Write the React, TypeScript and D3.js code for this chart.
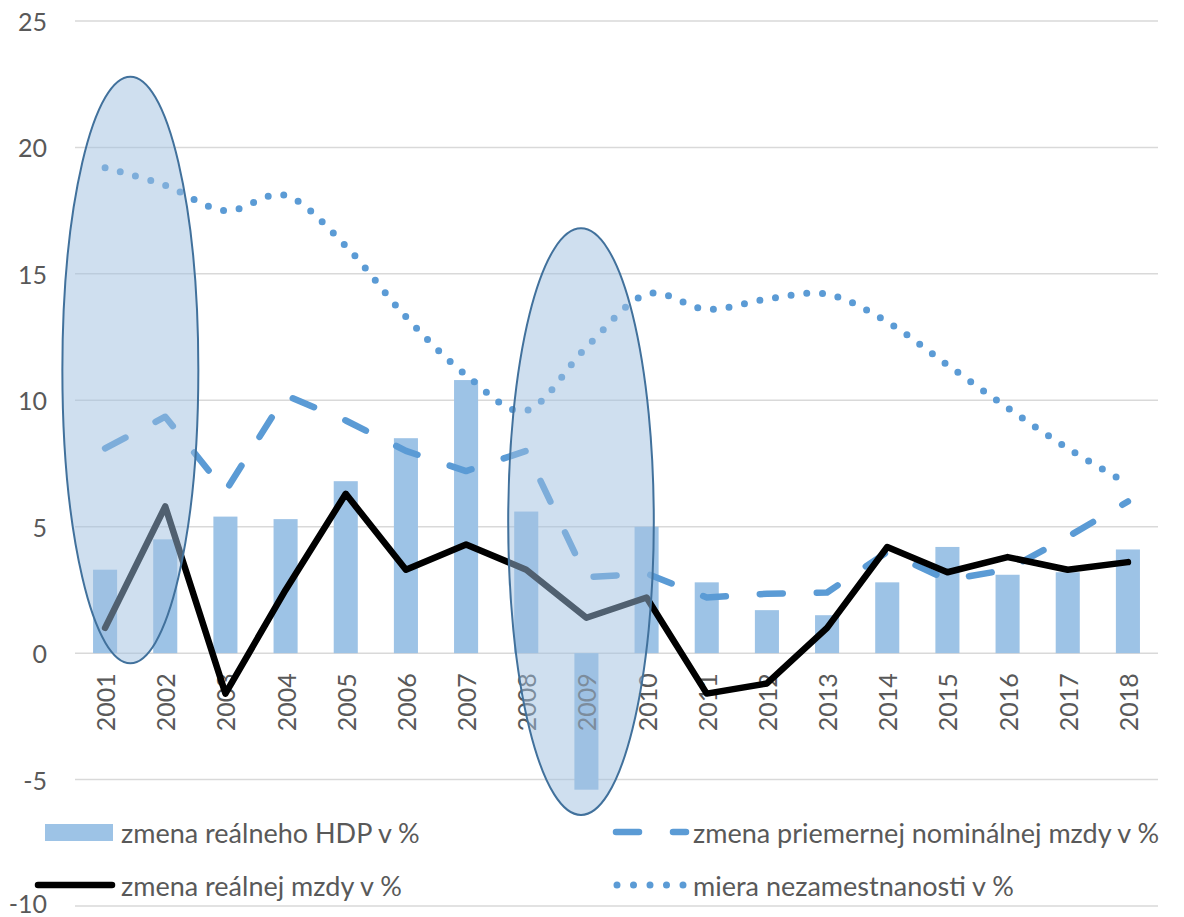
import React from 'react';
import * as d3 from 'd3';

const years = ['2001','2002','2003','2004','2005','2006','2007','2008','2009','2010','2011','2012','2013','2014','2015','2016','2017','2018'];
const realGdp = [3.3, 4.5, 5.4, 5.3, 6.8, 8.5, 10.8, 5.6, -5.4, 5.0, 2.8, 1.7, 1.5, 2.8, 4.2, 3.1, 3.2, 4.1];
const nominalWage = [8.1, 9.35, 6.4, 10.2, 9.2, 8.0, 7.2, 8.0, 3.0, 3.15, 2.2, 2.35, 2.4, 4.0, 2.9, 3.3, 4.6, 6.0];
const realWage = [1.0, 5.8, -1.6, 2.5, 6.3, 3.3, 4.3, 3.3, 1.4, 2.2, -1.6, -1.2, 1.0, 4.2, 3.2, 3.8, 3.3, 3.6];
const unemployment = [19.2, 18.5, 17.5, 18.1, 16.1, 13.3, 11.0, 9.6, 12.1, 14.2, 13.6, 14.0, 14.2, 13.1, 11.4, 9.7, 8.1, 6.7];
const yTicks = [-10, -5, 0, 5, 10, 15, 20, 25];

const legendLabels = [
  'zmena reálneho HDP v %',
  'zmena priemernej nominálnej mzdy v %',
  'zmena reálnej mzdy v %',
  'miera nezamestnanosti v %',
];

// highlight ellipses (annotation): centre as category index, value span, half width in category steps
const highlightCenterIndex = [0.42, 7.91];
const highlightValueSpan = [[-0.4, 22.8], [-6.4, 16.8]];
const highlightHalfSteps = [1.13, 1.21];

const W = 1184;
const H = 917;
const left = 75;
const right = 1158;
const top = 21;
const bottom = 906;

const FONT = "Lato, 'Open Sans', sans-serif";
const TXT = '#595959';
const BAR = '#9dc3e6';
const BLUE = '#5b9bd5';
const LEGEND_FS = 27;

export default function App() {
  const x = d3.scaleBand<string>().domain(years).range([left, right]).paddingInner(0.6).paddingOuter(0.3);
  const step = x.step();
  const cx = (y: string) => (x(y) as number) + x.bandwidth() / 2;
  const y = d3.scaleLinear().domain([-10, 25]).range([bottom, top]);

  const straight = d3.line<number>().x((_, i) => cx(years[i])).y((v) => y(v));
  const smooth = d3.line<number>().x((_, i) => cx(years[i])).y((v) => y(v)).curve(d3.curveCardinal.tension(0));

  const firstCenter = cx(years[0]);

  return (
    <svg width={W} height={H} style={{ position: 'absolute', left: 0, top: 0, background: '#fff' }} fontFamily={FONT}>
      {/* gridlines */}
      {yTicks.map((t) => (
        <line key={'g' + t} x1={left} x2={right} y1={y(t)} y2={y(t)} stroke="#d9d9d9" strokeWidth={1.5} />
      ))}
      {/* y tick labels */}
      {yTicks.map((t) => (
        <text key={'t' + t} x={47} y={t === -10 ? y(t) - 3 : y(t)} textAnchor="end" dominantBaseline="central" fontSize={25} fill={TXT}>
          {t}
        </text>
      ))}
      {/* bars */}
      {realGdp.map((v, i) => (
        <rect
          key={'b' + i}
          x={x(years[i])}
          width={x.bandwidth()}
          y={Math.min(y(v), y(0))}
          height={Math.abs(y(v) - y(0))}
          fill={BAR}
        />
      ))}
      {/* x labels */}
      {years.map((yr) => (
        <text
          key={'x' + yr}
          transform={`translate(${cx(yr)},${y(0) + 20}) rotate(-90)`}
          textAnchor="end"
          dominantBaseline="central"
          fontSize={25}
          fill={TXT}
        >
          {yr}
        </text>
      ))}
      {/* lines */}
      <path d={straight(nominalWage) || ''} fill="none" stroke={BLUE} strokeWidth={6.5} strokeLinecap="round" strokeLinejoin="round" strokeDasharray="23 34" />
      <path d={straight(realWage) || ''} fill="none" stroke="#000" strokeWidth={6.5} strokeLinejoin="round" strokeLinecap="round" />
      <path d={smooth(unemployment) || ''} fill="none" stroke={BLUE} strokeWidth={7} strokeLinecap="round" strokeDasharray="0 15.8" />
      {/* highlight ellipses */}
      {highlightCenterIndex.map((ci, k) => {
        const ex = firstCenter + ci * step;
        const [lo, hi] = highlightValueSpan[k];
        return (
          <ellipse
            key={'e' + k}
            cx={ex}
            cy={(y(lo) + y(hi)) / 2}
            rx={highlightHalfSteps[k] * step}
            ry={(y(lo) - y(hi)) / 2}
            fill="rgb(160,192,224)"
            fillOpacity={0.5}
            stroke="#41719c"
            strokeWidth={2}
          />
        );
      })}
      {/* legend */}
      <g>
        <rect x={45} y={824} width={68} height={17} fill={BAR} />
        <text x={121} y={832} dominantBaseline="central" fontSize={LEGEND_FS} fill={TXT}>{legendLabels[0]}</text>
        <line x1={616} x2={686} y1={832} y2={832} stroke={BLUE} strokeWidth={6.5} strokeLinecap="round" strokeDasharray="23 34" />
        <text x={693} y={832} dominantBaseline="central" fontSize={LEGEND_FS} fill={TXT}>{legendLabels[1]}</text>
        <line x1={38} x2={112} y1={885} y2={885} stroke="#000" strokeWidth={6.5} strokeLinecap="round" />
        <text x={121} y={885} dominantBaseline="central" fontSize={LEGEND_FS} fill={TXT}>{legendLabels[2]}</text>
        <line x1={617} x2={684} y1={885} y2={885} stroke={BLUE} strokeWidth={7} strokeLinecap="round" strokeDasharray="0 16.5" />
        <text x={693} y={885} dominantBaseline="central" fontSize={LEGEND_FS} fill={TXT}>{legendLabels[3]}</text>
      </g>
    </svg>
  );
}
